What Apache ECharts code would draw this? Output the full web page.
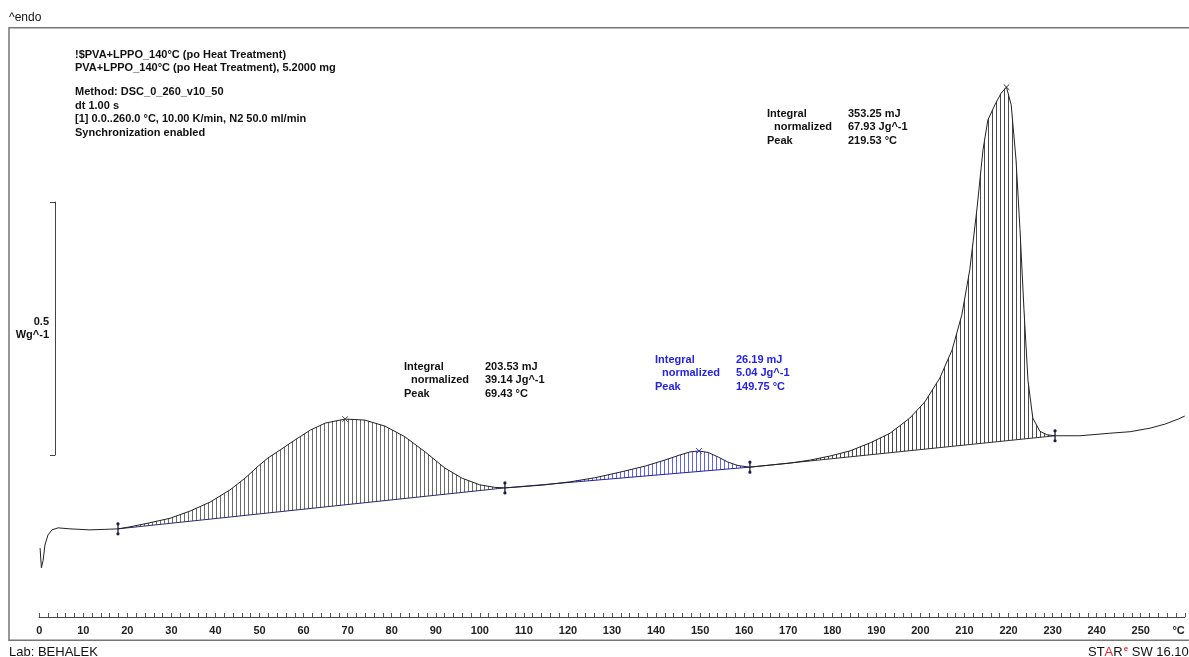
<!DOCTYPE html>
<html>
<head>
<meta charset="utf-8">
<script src="https://cdn.jsdelivr.net/npm/echarts@6/dist/echarts.min.js"></script>
<style>
  html, body { margin: 0; padding: 0; background: #fff; }
  #chart { width: 1189px; height: 657px; }
</style>
</head>
<body>
<div id="chart"></div>
<script>
// DSC heating run: temperature (°C) and heat flow (W/g, endo up)
const temperature = [
  0.2, 0.5, 0.9, 1.3, 2.0, 2.9, 4.3, 7.0, 11.5, 14.9, 17.88,
  20.6, 25.1, 29.7, 34.2, 38.8, 43.3, 46.7, 49.7, 51.9, 54.7, 58.1, 61.5, 64.9, 69.43,
  73.9, 78.5, 83.0, 87.6, 92.1, 96.0, 100.0, 103.4, 105.7,
  109.1, 114.8, 120.5, 126.1, 131.8, 137.5, 142.0, 145.4, 147.7, 149.75,
  151.8, 154.1, 156.3, 158.6, 161.3,
  165.9, 170.4, 175.0, 179.5, 184.0, 188.6, 193.1, 197.6, 201.0, 204.4, 207.2,
  209.4, 211.2, 212.8, 214.2, 215.3, 216.9, 218.3, 219.53,
  220.6, 221.7, 222.6, 223.5, 224.4, 225.5, 227.1, 228.7, 230.55,
  236.2, 243.0, 247.6, 252.1, 255.5, 258.5, 260.0
];
const heatFlow = [
  -0.184, -0.223, -0.208, -0.178, -0.158, -0.148, -0.144, -0.146, -0.148, -0.147, -0.146,
  -0.142, -0.134, -0.125, -0.111, -0.093, -0.069, -0.046, -0.022, -0.006, 0.010, 0.030, 0.049, 0.063, 0.071,
  0.069, 0.057, 0.036, 0.006, -0.026, -0.046, -0.059, -0.064, -0.065,
  -0.063, -0.059, -0.053, -0.045, -0.034, -0.022, -0.010, 0.000, 0.006, 0.008,
  0.005, -0.004, -0.014, -0.021, -0.024,
  -0.020, -0.016, -0.010, -0.002, 0.008, 0.024, 0.043, 0.073, 0.105, 0.152, 0.208,
  0.277, 0.366, 0.484, 0.603, 0.662, 0.692, 0.715, 0.727,
  0.692, 0.583, 0.445, 0.287, 0.148, 0.073, 0.047, 0.040, 0.038,
  0.038, 0.043, 0.046, 0.053, 0.061, 0.071, 0.077
];

// Integration limits (°C) shared by neighbouring peaks
const limitTemps = [17.88, 105.7, 161.3, 230.55];
// Evaluated peaks
const peakTemps = [69.43, 149.75, 219.53];
const integralMJ = [203.53, 26.19, 353.25];
const integralNorm = [39.14, 5.04, 67.93];

const sampleLines = [
  '!$PVA+LPPO_140°C (po Heat Treatment)',
  'PVA+LPPO_140°C (po Heat Treatment), 5.2000 mg'
];
const methodLines = [
  'Method: DSC_0_260_v10_50',
  'dt 1.00 s',
  '[1] 0.0..260.0 °C, 10.00 K/min, N2 50.0 ml/min',
  'Synchronization enabled'
];
const axisUnit = '°C';
const scaleBarLabel = '0.5\nWg^-1';

const FONT = '"Liberation Sans", Arial, Helvetica, sans-serif';
const regionHatch = ['#6a6a6a', '#6060ff', '#4a4a4a'];
const regionBase = ['#2a2a70', '#2424a0', '#333333'];
const regionText = ['#111111', '#2323e8', '#111111'];
const regionMarker = ['#444444', '#3030e0', '#333333'];
// placement of each evaluation text block: [left, first line centre]
const blockPos = [[404, 367], [655, 360], [767, 114]];

function stripePattern(color) {
  const c = document.createElement('canvas');
  c.width = 4; c.height = 4;
  const g = c.getContext('2d');
  g.fillStyle = color;
  g.fillRect(0, 0, 1, 4);
  return { image: c, repeat: 'repeat' };
}
const patterns = regionHatch.map(stripePattern);

const idx = t => temperature.indexOf(t);
const curve = temperature.map((t, i) => [t, heatFlow[i]]);

function hatchItem(params, api) {
  const r = params.dataIndex;
  const i0 = idx(limitTemps[r]), i1 = idx(limitTemps[r + 1]);
  const pts = [];
  for (let i = i0; i <= i1; i++) pts.push(api.coord([temperature[i], heatFlow[i]]));
  const b0 = pts[0], b1 = pts[pts.length - 1];
  return {
    type: 'group',
    children: [
      { type: 'polygon', shape: { points: pts }, style: { fill: patterns[r], stroke: null } },
      { type: 'line', shape: { x1: b0[0], y1: b0[1], x2: b1[0], y2: b1[1] },
        style: { stroke: regionBase[r], lineWidth: 1 } }
    ]
  };
}

function peakItem(params, api) {
  const p = api.coord([api.value(0), api.value(1)]);
  const s = 2.8, col = regionMarker[params.dataIndex];
  return {
    type: 'group',
    children: [
      { type: 'line', shape: { x1: p[0] - s, y1: p[1] - s, x2: p[0] + s, y2: p[1] + s }, style: { stroke: col, lineWidth: 1 } },
      { type: 'line', shape: { x1: p[0] - s, y1: p[1] + s, x2: p[0] + s, y2: p[1] - s }, style: { stroke: col, lineWidth: 1 } }
    ]
  };
}

function limitItem(params, api) {
  const p = api.coord([api.value(0), api.value(1)]);
  const col = '#1c1c3c';
  return {
    type: 'group',
    children: [
      { type: 'line', shape: { x1: p[0], y1: p[1] - 6, x2: p[0], y2: p[1] + 5 }, style: { stroke: col, lineWidth: 1.3 } },
      { type: 'circle', shape: { cx: p[0], cy: p[1] - 5, r: 1.6 }, style: { fill: col } },
      { type: 'circle', shape: { cx: p[0], cy: p[1] + 5, r: 1.6 }, style: { fill: col } }
    ]
  };
}

function textEl(x, y, str, opts) {
  return {
    type: 'text', x: x, y: y, silent: true,
    style: Object.assign({
      text: str, fill: '#111', font: 'bold 11px ' + FONT,
      textAlign: 'left', textVerticalAlign: 'middle'
    }, opts || {})
  };
}

const graphics = [];
// outer frame of the plot
graphics.push({
  type: 'rect', silent: true, z: 0,
  shape: { x: 9, y: 27.75, width: 1300, height: 612.5 },
  style: { fill: null, stroke: '#767676', lineWidth: 1.5 }
});
graphics.push(textEl(9, 18, '^endo', { font: '12px ' + FONT }));
sampleLines.forEach((s, i) => graphics.push(textEl(75, 55 + i * 12.7, s)));
methodLines.forEach((s, i) => graphics.push(textEl(75, 92 + i * 13.5, s)));
peakTemps.forEach((t, r) => {
  const [x, y] = blockPos[r];
  const col = regionText[r];
  const labels = ['Integral', 'normalized', 'Peak'];
  const values = [integralMJ[r].toFixed(2) + ' mJ', integralNorm[r].toFixed(2) + ' Jg^-1', t.toFixed(2) + ' °C'];
  labels.forEach((lab, k) => {
    graphics.push(textEl(x + (k === 1 ? 7 : 0), y + k * 13.4, lab, { fill: col }));
    graphics.push(textEl(x + 81, y + k * 13.4, values[k], { fill: col }));
  });
});
graphics.push(textEl(9, 652, 'Lab: BEHALEK', { font: '13px ' + FONT }));
graphics.push({
  type: 'text', x: 1088, y: 652, silent: true,
  style: {
    text: '{k|ST}{r|A}{k|R}{e|e}{k| SW 16.10}',
    textVerticalAlign: 'middle',
    rich: {
      k: { fill: '#111', font: '13px ' + FONT },
      r: { fill: '#e8262a', font: '13px ' + FONT },
      e: { fill: '#e8262a', font: 'bold 8px ' + FONT, verticalAlign: 'top', padding: [0, 0, 6, 1] }
    }
  }
});

const chart = echarts.init(document.getElementById('chart'), null, { renderer: 'canvas' });
chart.setOption({
  animation: false,
  backgroundColor: '#fff',
  grid: [
    { left: 39.2, right: 4.2, top: 28, bottom: 40 },
    { left: 55, top: 202, height: 253, width: 10 }
  ],
  xAxis: [
    {
      gridIndex: 0, type: 'value', min: 0, max: 260, interval: 10,
      axisLine: { onZero: false, lineStyle: { color: '#444', width: 1 } },
      axisTick: { inside: true, length: 4, lineStyle: { color: '#555' } },
      minorTick: { show: true, splitNumber: 5, length: 4, lineStyle: { color: '#555' } },
      splitLine: { show: false },
      minorSplitLine: { show: false },
      axisLabel: {
        margin: 8, color: '#222', fontFamily: FONT, fontSize: 11, fontWeight: 'bold',
        alignMaxLabel: 'right',
        formatter: v => (v === 260 ? axisUnit : String(v))
      }
    },
    { gridIndex: 1, type: 'value', min: 0, max: 1, show: false }
  ],
  yAxis: [
    { gridIndex: 0, type: 'value', min: -0.3202, max: 0.8439, show: false },
    {
      gridIndex: 1, type: 'value', min: 0, max: 0.5, interval: 0.5, position: 'left',
      axisLine: { show: true, onZero: false, lineStyle: { color: '#444' } },
      axisTick: { show: true, length: 5, lineStyle: { color: '#444' } },
      axisLabel: { show: false },
      splitLine: { show: false },
      name: scaleBarLabel, nameLocation: 'middle', nameRotate: 0, nameGap: 6,
      nameTextStyle: {
        fontFamily: FONT, fontSize: 11, fontWeight: 'bold', color: '#111',
        lineHeight: 13, align: 'right', padding: [0, 0, 13, 0]
      }
    }
  ],
  graphic: graphics,
  series: [
    {
      type: 'custom', xAxisIndex: 0, yAxisIndex: 0, z: 1, silent: true,
      renderItem: hatchItem,
      data: peakTemps.map((t, r) => [limitTemps[r], limitTemps[r + 1]])
    },
    {
      type: 'line', xAxisIndex: 0, yAxisIndex: 0, z: 3, silent: true,
      data: curve, showSymbol: false,
      lineStyle: { color: '#222', width: 1 }
    },
    {
      type: 'custom', xAxisIndex: 0, yAxisIndex: 0, z: 4, silent: true,
      renderItem: peakItem,
      data: peakTemps.map(t => [t, heatFlow[idx(t)]])
    },
    {
      type: 'custom', xAxisIndex: 0, yAxisIndex: 0, z: 4, silent: true,
      renderItem: limitItem,
      data: limitTemps.map(t => [t, heatFlow[idx(t)]])
    }
  ]
});
</script>
</body>
</html>
